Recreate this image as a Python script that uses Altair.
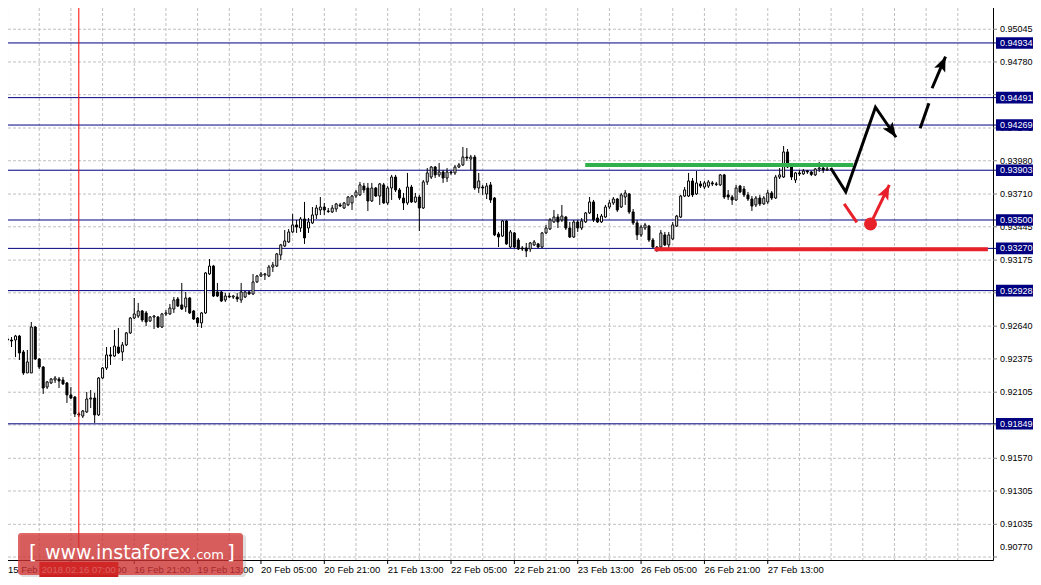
import math
import altair as alt
import pandas as pd

# ---------------- data ----------------
opens = [0.92536,0.92528,0.92528,0.92560,0.92431,0.92261,0.92261,0.92633,0.92374,0.92309,
0.92147,0.92180,0.92204,0.92212,0.92204,0.92180,0.92083,0.92066,0.91929,0.91912,
0.91945,0.92050,0.92058,0.91921,0.92220,0.92301,0.92407,0.92398,0.92471,0.92431,
0.92488,0.92585,0.92706,0.92722,0.92763,0.92747,0.92682,0.92714,0.92714,0.92633,
0.92739,0.92739,0.92779,0.92860,0.92812,0.92795,0.92868,0.92763,0.92706,0.92666,
0.92747,0.93063,0.93127,0.92917,0.92917,0.92852,0.92884,0.92876,0.92876,0.92852,
0.92876,0.92917,0.92901,0.92998,0.93046,0.93055,0.93046,0.93119,0.93127,0.93217,
0.93289,0.93322,0.93403,0.93460,0.93435,0.93508,0.93435,0.93476,0.93541,0.93581,
0.93605,0.93573,0.93565,0.93589,0.93622,0.93597,0.93622,0.93638,0.93694,0.93703,
0.93775,0.93759,0.93654,0.93759,0.93694,0.93784,0.93638,0.93759,0.93848,0.93743,
0.93678,0.93638,0.93767,0.93646,0.93686,0.93597,0.93808,0.93848,0.93929,0.93865,
0.93889,0.93840,0.93889,0.93881,0.93929,0.93946,0.94010,0.93994,0.94010,0.93759,
0.93767,0.93711,0.93784,0.93678,0.93387,0.93370,0.93492,0.93281,0.93395,0.93338,
0.93273,0.93273,0.93265,0.93298,0.93306,0.93281,0.93395,0.93427,0.93484,0.93524,
0.93500,0.93524,0.93435,0.93362,0.93484,0.93435,0.93484,0.93557,0.93646,0.93516,
0.93484,0.93524,0.93605,0.93638,0.93670,0.93605,0.93686,0.93711,0.93565,0.93476,
0.93379,0.93435,0.93451,0.93338,0.93281,0.93281,0.93379,0.93298,0.93346,0.93451,
0.93524,0.93694,0.93694,0.93816,0.93711,0.93792,0.93767,0.93775,0.93800,0.93792,
0.93784,0.93865,0.93703,0.93686,0.93662,0.93775,0.93751,0.93703,0.93670,0.93622,
0.93678,0.93630,0.93646,0.93719,0.93678,0.93848,0.93848,0.94051,0.93929,0.93824,
0.93881,0.93873,0.93897,0.93889,0.93865,0.93913,0.93921,0.93905]
highs = [0.92569,0.92552,0.92569,0.92569,0.92447,0.92447,0.92674,0.92641,0.92382,0.92317,
0.92196,0.92220,0.92236,0.92228,0.92228,0.92188,0.92147,0.92074,0.91945,0.91961,
0.92107,0.92123,0.92099,0.92228,0.92309,0.92471,0.92471,0.92609,0.92625,0.92512,
0.92593,0.92714,0.92868,0.92828,0.92771,0.92763,0.92722,0.92731,0.92722,0.92747,
0.92771,0.92820,0.92876,0.92876,0.92990,0.92917,0.92876,0.92771,0.92714,0.92755,
0.93079,0.93184,0.93136,0.92990,0.92925,0.92909,0.92909,0.92893,0.92909,0.92990,
0.92925,0.92925,0.93063,0.93055,0.93079,0.93071,0.93136,0.93160,0.93233,0.93306,
0.93419,0.93427,0.93549,0.93500,0.93524,0.93646,0.93516,0.93605,0.93622,0.93686,
0.93638,0.93597,0.93622,0.93638,0.93638,0.93646,0.93694,0.93703,0.93743,0.93808,
0.93800,0.93800,0.93800,0.93767,0.93800,0.93800,0.93775,0.93865,0.93865,0.93759,
0.93719,0.93881,0.93784,0.93719,0.93703,0.93824,0.93921,0.93937,0.93937,0.93962,
0.93905,0.93921,0.93897,0.93946,0.93962,0.94091,0.94083,0.94027,0.94027,0.93881,
0.93784,0.93800,0.93808,0.93686,0.93403,0.93500,0.93500,0.93419,0.93403,0.93354,
0.93289,0.93314,0.93322,0.93338,0.93314,0.93403,0.93460,0.93516,0.93581,0.93549,
0.93622,0.93532,0.93484,0.93500,0.93500,0.93516,0.93565,0.93686,0.93662,0.93549,
0.93549,0.93622,0.93662,0.93686,0.93678,0.93719,0.93743,0.93719,0.93589,0.93500,
0.93460,0.93476,0.93460,0.93354,0.93289,0.93419,0.93403,0.93403,0.93484,0.93541,
0.93703,0.93767,0.93881,0.93840,0.93897,0.93816,0.93816,0.93824,0.93816,0.93808,
0.93873,0.93873,0.93743,0.93703,0.93784,0.93784,0.93775,0.93727,0.93694,0.93694,
0.93703,0.93694,0.93743,0.93735,0.93865,0.93921,0.94099,0.94075,0.93946,0.93889,
0.93905,0.93913,0.93905,0.93897,0.93921,0.93970,0.93929,0.93929]
lows = [0.92488,0.92471,0.92390,0.92366,0.92245,0.92261,0.92261,0.92366,0.92293,0.92091,
0.92131,0.92172,0.92180,0.92139,0.92164,0.92018,0.92050,0.91904,0.91904,0.91896,
0.91937,0.91977,0.91856,0.91912,0.92212,0.92285,0.92326,0.92390,0.92415,0.92358,
0.92479,0.92577,0.92698,0.92706,0.92674,0.92641,0.92674,0.92617,0.92625,0.92625,
0.92722,0.92731,0.92747,0.92795,0.92771,0.92755,0.92739,0.92690,0.92633,0.92625,
0.92739,0.93055,0.92876,0.92876,0.92836,0.92836,0.92868,0.92860,0.92836,0.92828,
0.92868,0.92893,0.92893,0.92990,0.93038,0.93014,0.93038,0.93079,0.93119,0.93176,
0.93281,0.93314,0.93395,0.93395,0.93403,0.93306,0.93395,0.93468,0.93508,0.93541,
0.93541,0.93557,0.93557,0.93565,0.93605,0.93589,0.93613,0.93581,0.93678,0.93694,
0.93719,0.93573,0.93646,0.93686,0.93622,0.93630,0.93622,0.93662,0.93727,0.93662,
0.93581,0.93622,0.93638,0.93638,0.93411,0.93589,0.93784,0.93832,0.93840,0.93848,
0.93800,0.93808,0.93865,0.93865,0.93921,0.93937,0.93978,0.93905,0.93743,0.93719,
0.93703,0.93670,0.93638,0.93370,0.93281,0.93362,0.93298,0.93273,0.93273,0.93257,
0.93249,0.93200,0.93241,0.93289,0.93273,0.93273,0.93387,0.93419,0.93476,0.93435,
0.93484,0.93419,0.93354,0.93354,0.93403,0.93419,0.93476,0.93549,0.93484,0.93476,
0.93476,0.93516,0.93589,0.93622,0.93565,0.93597,0.93622,0.93549,0.93460,0.93338,
0.93362,0.93419,0.93322,0.93273,0.93241,0.93265,0.93289,0.93273,0.93338,0.93443,
0.93516,0.93686,0.93686,0.93686,0.93703,0.93759,0.93751,0.93759,0.93775,0.93775,
0.93775,0.93670,0.93662,0.93622,0.93654,0.93719,0.93686,0.93654,0.93573,0.93605,
0.93613,0.93622,0.93630,0.93662,0.93670,0.93832,0.93840,0.93921,0.93824,0.93800,
0.93856,0.93865,0.93873,0.93856,0.93856,0.93889,0.93881,0.93897]
closes = [0.92528,0.92520,0.92560,0.92423,0.92261,0.92350,0.92633,0.92374,0.92309,0.92139,
0.92188,0.92212,0.92220,0.92196,0.92172,0.92083,0.92058,0.91929,0.91921,0.91953,
0.92050,0.92058,0.91921,0.92220,0.92301,0.92407,0.92398,0.92479,0.92423,0.92488,
0.92585,0.92706,0.92739,0.92763,0.92690,0.92674,0.92714,0.92722,0.92633,0.92739,
0.92747,0.92787,0.92852,0.92803,0.92779,0.92868,0.92747,0.92698,0.92666,0.92747,
0.93071,0.93127,0.92884,0.92884,0.92844,0.92884,0.92876,0.92884,0.92860,0.92917,
0.92917,0.92901,0.92998,0.93046,0.93063,0.93063,0.93119,0.93136,0.93225,0.93298,
0.93330,0.93403,0.93460,0.93443,0.93508,0.93354,0.93484,0.93541,0.93597,0.93605,
0.93581,0.93569,0.93597,0.93630,0.93613,0.93638,0.93686,0.93694,0.93727,0.93784,
0.93743,0.93654,0.93759,0.93694,0.93792,0.93638,0.93759,0.93848,0.93743,0.93678,
0.93638,0.93767,0.93646,0.93686,0.93597,0.93808,0.93881,0.93929,0.93865,0.93889,
0.93840,0.93889,0.93881,0.93929,0.93946,0.94010,0.94002,0.94010,0.93759,0.93816,
0.93759,0.93775,0.93662,0.93379,0.93362,0.93492,0.93306,0.93403,0.93281,0.93265,
0.93265,0.93249,0.93314,0.93322,0.93281,0.93395,0.93435,0.93500,0.93524,0.93484,
0.93532,0.93435,0.93362,0.93484,0.93435,0.93492,0.93557,0.93646,0.93500,0.93484,
0.93532,0.93605,0.93638,0.93670,0.93581,0.93703,0.93719,0.93565,0.93476,0.93379,
0.93443,0.93460,0.93338,0.93281,0.93257,0.93395,0.93298,0.93379,0.93460,0.93532,
0.93694,0.93743,0.93816,0.93703,0.93800,0.93775,0.93800,0.93808,0.93792,0.93788,
0.93865,0.93686,0.93686,0.93662,0.93759,0.93727,0.93703,0.93670,0.93613,0.93678,
0.93630,0.93678,0.93719,0.93678,0.93848,0.93865,0.94051,0.93929,0.93848,0.93881,
0.93873,0.93897,0.93889,0.93869,0.93913,0.93921,0.93905,0.93913]

grid_prices = [0.95045, 0.94780, 0.94515, 0.94245, 0.93980, 0.93710, 0.93445, 0.93175,
               0.92910, 0.92640, 0.92375, 0.92105, 0.91840, 0.91570, 0.91305, 0.91035, 0.90770]
level_prices = [0.94934, 0.94491, 0.94269, 0.93903, 0.93500, 0.93270, 0.92928, 0.91849]
time_bars = [0, 16, 32, 48, 64, 80, 96, 112, 128, 144, 160, 176, 192]
time_labels = ["15 Feb 13:00", "16 Feb 05:00", "16 Feb 21:00", "19 Feb 13:00", "20 Feb 05:00",
               "20 Feb 21:00", "21 Feb 13:00", "22 Feb 05:00", "22 Feb 21:00", "23 Feb 13:00",
               "26 Feb 05:00", "26 Feb 21:00", "27 Feb 13:00"]
grid_bars = [0, 8, 16, 24, 32, 40, 48, 56, 64, 72, 80, 88, 96, 104, 112, 120, 128, 136, 144,
             152, 160, 168, 176, 184, 192, 200, 208, 216, 224, 232, 240]
cross_bar = 18
cross_label = "2018.02.16 07:00"

green_bars = [145.9, 213.6]
green_price = 0.93946
red_bars = [163.4, 247.6]
red_price = 0.93263

arrow_seg = ["b1", "b1", "b1", "b1", "b2", "b2", "b3", "b3", "r1", "r1", "r2", "r2"]
arrow_bar = [207.9, 211.7, 219.2, 224.4, 230.5, 232.7, 233.5, 236.9, 211.3, 214.5, 217.95, 222.7]
arrow_price = [0.93921, 0.93729, 0.94413, 0.94170, 0.94243, 0.94445, 0.94567, 0.94823,
               0.93630, 0.93481, 0.93468, 0.93784]
dot_bar = 217.95
dot_price = 0.93468

# ---------------- layout ----------------
W, H = 985, 552
X0, X1 = 1.375, 247.625
Y0, Y1 = 0.90746, 0.95217
xs = alt.Scale(domain=[X0, X1], nice=False, zero=False)
ys = alt.Scale(domain=[Y0, Y1], nice=False, zero=False)
FONT = "Liberation Sans"
FSY = 9
FSX = 9.5
NAVY = "#000080"
RED = "#e8202a"
GREEN = "#2fb04a"


def X(f):
    return alt.X(f, type="quantitative", scale=xs, axis=None)


def Y(f):
    return alt.Y(f, type="quantitative", scale=ys, axis=None)


one = pd.DataFrame({"a": [0]})

df = pd.DataFrame({"bar": list(range(len(opens))), "open": opens, "high": highs,
                   "low": lows, "close": closes})
gdf = pd.DataFrame({"price": grid_prices, "label": [f"{v:.5f}" for v in grid_prices]})
ldf = pd.DataFrame({"price": level_prices, "label": [f"{v:.5f}" for v in level_prices]})
tdf = pd.DataFrame({"bar": time_bars, "label": time_labels})
vdf = pd.DataFrame({"bar": grid_bars})

adf = pd.DataFrame({"seg": arrow_seg, "bar": arrow_bar, "price": arrow_price})
adf["idx"] = range(len(adf))

px_bar = W / (X1 - X0)
px_price = H / (Y1 - Y0)
heads = []
for seg in ["b1", "b3", "r2"]:
    s = adf[adf.seg == seg]
    b0, p0 = s.bar.iloc[-2], s.price.iloc[-2]
    b1, p1 = s.bar.iloc[-1], s.price.iloc[-1]
    ang = math.degrees(math.atan2((b1 - b0) * px_bar, (p1 - p0) * px_price)) % 360
    heads.append({"seg": seg, "bar": b1, "price": p1, "ang": ang})
hdf = pd.DataFrame(heads)

HEAD = "M0,0L0.75,1.85L0,1.45L-0.75,1.85Z"

# grid
vgrid = alt.Chart(vdf).mark_rule(color="#c0c0c0", strokeDash=[3, 2], strokeWidth=1).encode(
    x=X("bar"), y=alt.value(0), y2=alt.value(H))
hgrid = alt.Chart(gdf).mark_rule(color="#c0c0c0", strokeDash=[3, 2], strokeWidth=1).encode(
    y=Y("price"), x=alt.value(0), x2=alt.value(W))

# horizontal levels
levels = alt.Chart(ldf).mark_rule(color=NAVY, strokeWidth=1).encode(
    y=Y("price"), x=alt.value(0), x2=alt.value(W + 3))

# candles
wicks = alt.Chart(df).mark_rule(color="black", strokeWidth=1).encode(
    x=X("bar"), y=Y("low"), y2=alt.Y2("high"))
bodies = alt.Chart(df).mark_bar(width=2, stroke="black", strokeWidth=1).encode(
    x=X("bar"), y=Y("open"), y2=alt.Y2("close"),
    fill=alt.condition("datum.close >= datum.open", alt.value("white"), alt.value("black")))

# crosshair
cross = alt.Chart(pd.DataFrame({"bar": [cross_bar]})).mark_rule(color="#ff0000", strokeWidth=1).encode(
    x=X("bar"), y=alt.value(0), y2=alt.value(H))

# trend lines
green = alt.Chart(pd.DataFrame({"b0": [green_bars[0]], "b1": [green_bars[1]], "price": [green_price]})).mark_rule(
    color=GREEN, strokeWidth=4).encode(x=X("b0"), x2=alt.X2("b1"), y=Y("price"))
redl = alt.Chart(pd.DataFrame({"b0": [red_bars[0]], "b1": [red_bars[1]], "price": [red_price]})).mark_rule(
    color=RED, strokeWidth=4).encode(x=X("b0"), x2=alt.X2("b1"), y=Y("price"))

# arrows
blk_lines = alt.Chart(adf[adf.seg.str.startswith("b")]).mark_line(color="black", strokeWidth=3).encode(
    x=X("bar"), y=Y("price"), detail="seg:N", order="idx:Q")
red_lines = alt.Chart(adf[adf.seg.str.startswith("r")]).mark_line(color=RED, strokeWidth=3).encode(
    x=X("bar"), y=Y("price"), detail="seg:N", order="idx:Q")
blk_heads = alt.Chart(hdf[hdf.seg.str.startswith("b")]).mark_point(
    shape=HEAD, filled=True, size=256, opacity=1, color="black", strokeWidth=0).encode(
    x=X("bar"), y=Y("price"), angle=alt.Angle("ang:Q", scale=None))
red_heads = alt.Chart(hdf[hdf.seg.str.startswith("r")]).mark_point(
    shape=HEAD, filled=True, size=256, opacity=1, color=RED, strokeWidth=0).encode(
    x=X("bar"), y=Y("price"), angle=alt.Angle("ang:Q", scale=None))
dot = alt.Chart(pd.DataFrame({"bar": [dot_bar], "price": [dot_price]})).mark_point(
    shape="circle", filled=True, size=169, opacity=1, color=RED, strokeWidth=0).encode(
    x=X("bar"), y=Y("price"))

# right axis
yline = alt.Chart(one).mark_rule(color="black", strokeWidth=1).encode(
    x=alt.value(W + 0.5), y=alt.value(0), y2=alt.value(H + 0.5))
yticks = alt.Chart(gdf).mark_rule(color="#808080", strokeWidth=1).encode(
    y=Y("price"), x=alt.value(W), x2=alt.value(W + 4))
ylabels = alt.Chart(gdf).transform_filter("datum.price > 0.908").mark_text(
    align="left", baseline="middle", font=FONT, fontSize=FSY, color="black").encode(
    x=alt.value(992), y=Y("price"), text="label:N")
ylabel_last = alt.Chart(gdf).transform_filter("datum.price < 0.908").mark_text(
    align="left", baseline="middle", font=FONT, fontSize=FSY, color="black", dy=-10).encode(
    x=alt.value(992), y=Y("price"), text="label:N")
boxes = alt.Chart(ldf).mark_point(shape="M-2,-0.58H2V0.58H-2Z", filled=True, size=400, opacity=1,
                                  color=NAVY, strokeWidth=0).encode(x=alt.value(1008), y=Y("price"))
boxlabels = alt.Chart(ldf).mark_text(align="left", baseline="middle", font=FONT, fontSize=FSY,
                                     color="white").encode(x=alt.value(992), y=Y("price"), text="label:N")

# bottom axis
xline = alt.Chart(one).mark_rule(color="black", strokeWidth=1).encode(
    y=alt.value(H + 0.5), x=alt.value(0), x2=alt.value(W + 0.5))
xticks = alt.Chart(tdf).transform_filter("datum.bar > 0").mark_rule(color="black", strokeWidth=1).encode(
    x=X("bar"), y=alt.value(H), y2=alt.value(H + 4))
xlabels = alt.Chart(tdf).transform_filter("datum.bar > 0").mark_text(
    align="left", baseline="middle", font=FONT, fontSize=FSX, color="black").encode(
    x=X("bar"), y=alt.value(H + 9.5), text="label:N")
xlabel_first = alt.Chart(tdf).transform_filter("datum.bar == 0").mark_text(
    align="left", baseline="middle", font=FONT, fontSize=FSX, color="black").encode(
    x=alt.value(0), y=alt.value(H + 9.5), text="label:N")
cbox = alt.Chart(pd.DataFrame({"bar": [cross_bar]})).mark_point(
    shape="M-2.63,-0.5H2.63V0.5H-2.63Z", filled=True, size=900, opacity=1, color="#e00000",
    strokeWidth=0).encode(x=X("bar"), y=alt.value(H + 9.5))
clabel = alt.Chart(pd.DataFrame({"bar": [cross_bar], "label": [cross_label]})).mark_text(
    align="center", baseline="middle", font=FONT, fontSize=FSX, color="white").encode(
    x=X("bar"), y=alt.value(H + 9.5), text="label:N")

# logo
logo_shadow = alt.Chart(one).mark_rect(fill="#808080", opacity=0.25, cornerRadius=3).encode(
    x=alt.value(12), x2=alt.value(238), y=alt.value(527), y2=alt.value(569))
logo_box = alt.Chart(one).mark_rect(fill="#d42a2a", opacity=0.72, cornerRadius=3).encode(
    x=alt.value(10), x2=alt.value(235), y=alt.value(525), y2=alt.value(567))
logo_parts = []
for txt, xp, fs in [("[", 21, 20), ("www.instaforex", 37, 19), (".com", 184, 13), ("]", 219, 20)]:
    logo_parts.append(alt.Chart(one).mark_text(text=txt, align="left", baseline="alphabetic",
                                               font="DejaVu Sans", fontSize=fs, color="white").encode(
        x=alt.value(xp), y=alt.value(551)))

chart = alt.layer(
    vgrid, hgrid, levels, wicks, bodies, cross, green, redl,
    blk_lines, red_lines, blk_heads, red_heads, dot,
    yline, yticks, ylabels, ylabel_last, boxes, boxlabels,
    xline, xticks, xlabels, xlabel_first, cbox, clabel,
    logo_shadow, logo_box, *logo_parts
).properties(
    width=W, height=H,
    autosize=alt.AutoSizeParams(type="none"),
    padding={"left": 0, "top": 0, "right": 40, "bottom": 17},
    background="white",
).configure_view(stroke=None)

chart.save("out.html", embed_options={"renderer": "svg", "actions": False})
